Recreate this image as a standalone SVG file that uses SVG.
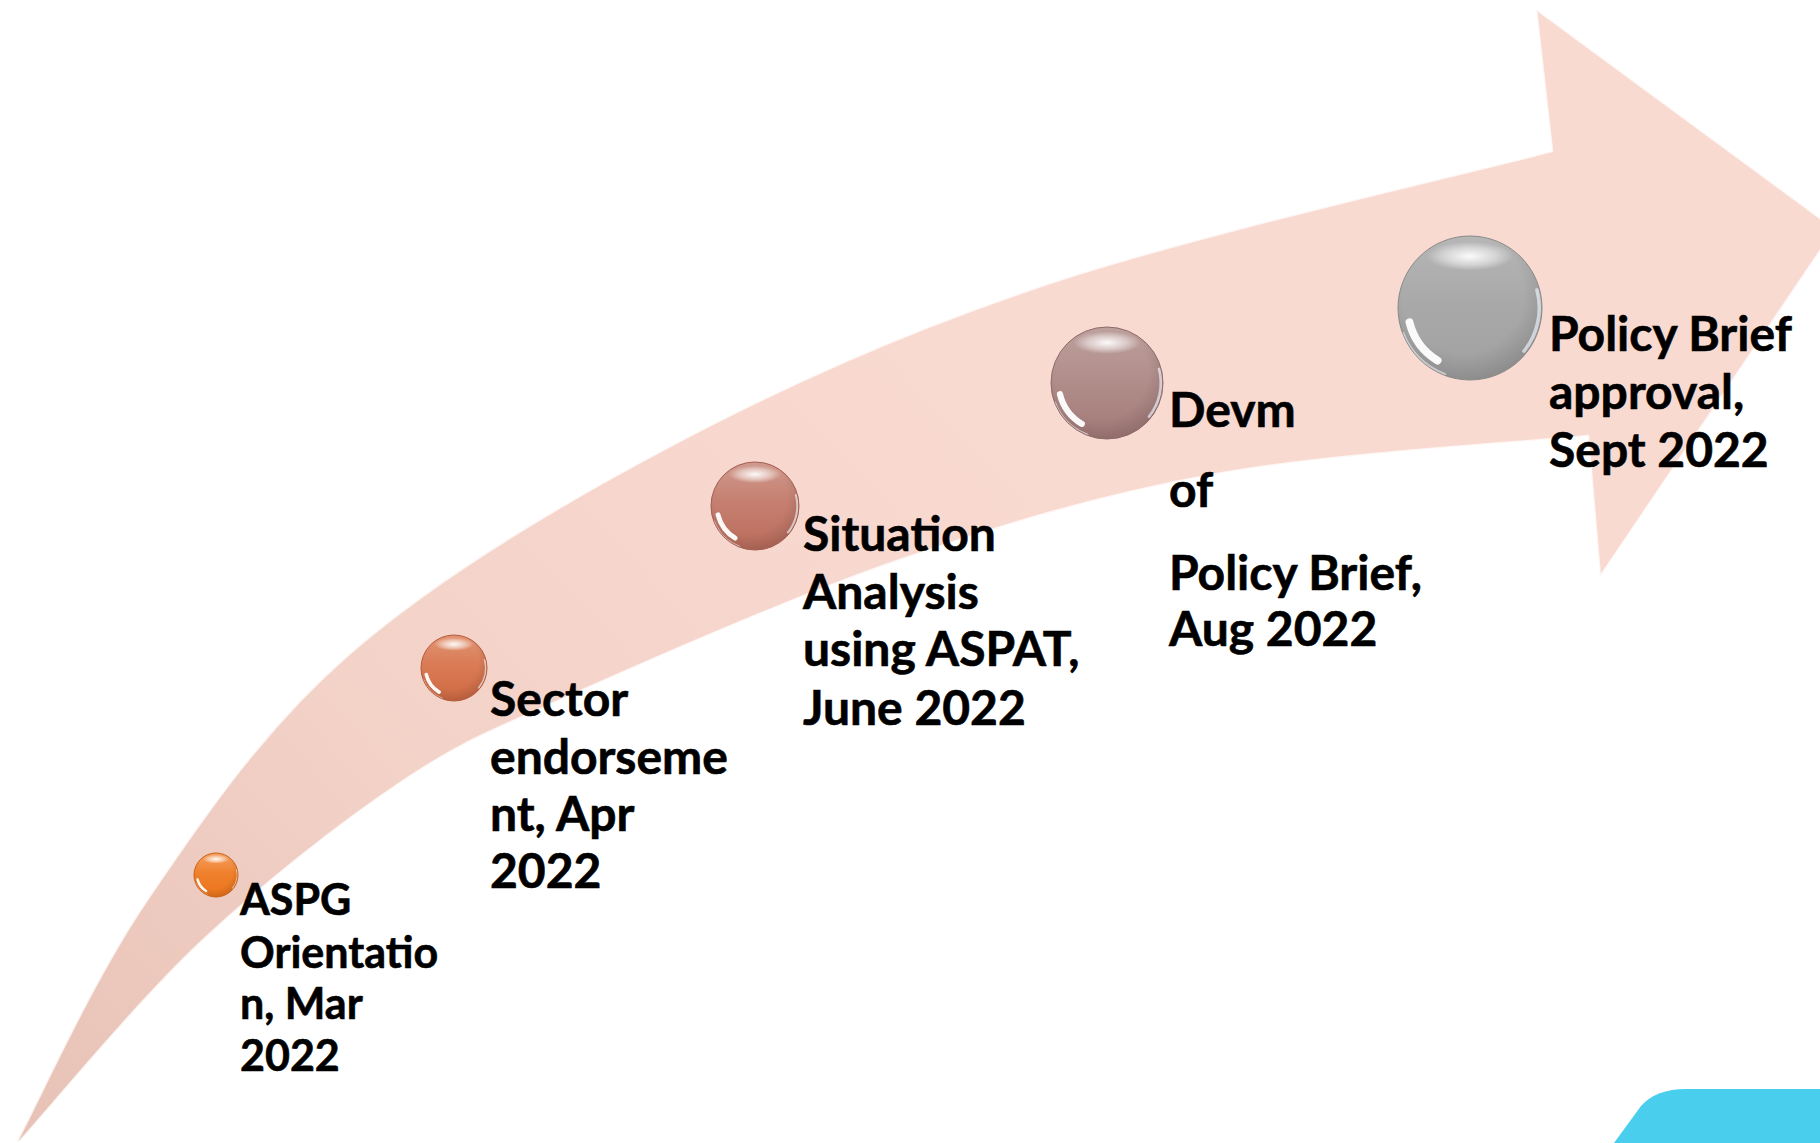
<svg xmlns="http://www.w3.org/2000/svg" xmlns:xlink="http://www.w3.org/1999/xlink" width="1820" height="1143" viewBox="0 0 1820 1143">
  <style>
    .lbl { font-family: "Lato", "Open Sans", "Liberation Sans", sans-serif; font-weight: 700; fill: #000000; stroke: #000000; stroke-width: 0.6px; }
    .big { font-size: 48px; }
    .small { font-size: 43px; }
    .rim { fill: none; stroke-width: 1; vector-effect: non-scaling-stroke; }
  </style>
  <defs>
    <linearGradient id="arrowFill" gradientUnits="userSpaceOnUse" x1="0" y1="1143" x2="900" y2="300">
      <stop offset="0" stop-color="#E7C1B5"/>
      <stop offset="0.45" stop-color="#F3D2C8"/>
      <stop offset="1" stop-color="#F9DAD1"/>
    </linearGradient>
    <radialGradient id="hlGrad" cx="0.5" cy="0.5" r="0.5">
      <stop offset="0" stop-color="#FFFFFF" stop-opacity="0.95"/>
      <stop offset="0.6" stop-color="#FFFFFF" stop-opacity="0.45"/>
      <stop offset="1" stop-color="#FFFFFF" stop-opacity="0"/>
    </radialGradient>
    <radialGradient id="shade" cx="0.45" cy="0.4" r="0.6">
      <stop offset="0.7" stop-color="#000000" stop-opacity="0"/>
      <stop offset="1" stop-color="#000000" stop-opacity="0.12"/>
    </radialGradient>
    <linearGradient id="b1" x1="0" y1="0" x2="0" y2="1">
      <stop offset="0" stop-color="#F4A062"/>
      <stop offset="0.45" stop-color="#F0802C"/>
      <stop offset="1" stop-color="#EC741C"/>
    </linearGradient>
    <linearGradient id="b2" x1="0" y1="0" x2="0" y2="1">
      <stop offset="0" stop-color="#E29474"/>
      <stop offset="0.45" stop-color="#D97B55"/>
      <stop offset="1" stop-color="#CF6A43"/>
    </linearGradient>
    <linearGradient id="b3" x1="0" y1="0" x2="0" y2="1">
      <stop offset="0" stop-color="#D09A8E"/>
      <stop offset="0.45" stop-color="#C57F70"/>
      <stop offset="1" stop-color="#BB6D5C"/>
    </linearGradient>
    <linearGradient id="b4" x1="0" y1="0" x2="0" y2="1">
      <stop offset="0" stop-color="#BDA09D"/>
      <stop offset="0.45" stop-color="#B18E8B"/>
      <stop offset="1" stop-color="#A47B79"/>
    </linearGradient>
    <linearGradient id="b5" x1="0" y1="0" x2="0" y2="1">
      <stop offset="0" stop-color="#B6B6B6"/>
      <stop offset="0.45" stop-color="#A9A9A9"/>
      <stop offset="1" stop-color="#A0A0A0"/>
    </linearGradient>
    <g id="gloss">
      <circle r="1" fill="url(#shade)"/>
      <ellipse cx="0" cy="-0.72" rx="0.6" ry="0.2" fill="url(#hlGrad)"/>
      <path d="M -0.84,0.2 A 0.86 0.86 0 0 0 -0.45,0.73" fill="none" stroke="#FFFFFF" stroke-opacity="0.95" stroke-width="0.11" stroke-linecap="round"/>
      <path d="M -0.93,0.35 A 0.98 0.98 0 0 0 -0.35,0.92" fill="none" stroke="#FFFFFF" stroke-opacity="0.5" stroke-width="0.04" stroke-linecap="round"/>
      <path d="M 0.93,-0.25 A 0.96 0.96 0 0 1 0.75,0.6" fill="none" stroke="#EEF6FF" stroke-opacity="0.65" stroke-width="0.05" stroke-linecap="round"/>
    </g>
  </defs>

  <rect x="0" y="0" width="1820" height="1143" fill="#FFFFFF"/>

  <g id="timeline-arrow">
    <path id="arrow-body" fill="url(#arrowFill)" stroke="#FFFFFF" stroke-opacity="0.75" stroke-width="2.5" stroke-linejoin="round"
      d="M 17,1141
         C 38.7,1100.8 91.8,981 147,900
         C 202.2,819 262,730 348,655
         C 434,580 547,511.7 663,450
         C 779,388.3 895.8,334.8 1044,285
         C 1192.2,235.2 1467.3,173.3 1552,151
         L 1536,9
         L 1835,229
         L 1600,577
         L 1588,436
         C 1526.2,442.3 1331.7,453.3 1217,474
         C 1102.3,494.7 1008.7,522.7 900,560
         C 791.3,597.3 648.3,660.8 565,698
         C 481.7,735.2 460.8,742.2 400,783
         C 339.2,823.8 263.3,883.3 200,943
         C 136.7,1002.7 50,1108 20,1141 Z"/>
  </g>

  <g id="node-1">
    <g transform="translate(216,875) scale(22)">
      <circle r="1" fill="url(#b1)"/>
      <use xlink:href="#gloss"/>
      <circle r="1" class="rim" stroke="#C9621A"/>
    </g>
    <text class="lbl small"><tspan x="240" y="915">ASPG</tspan><tspan x="240" y="968">Orientatio</tspan><tspan x="240" y="1019">n, Mar</tspan><tspan x="240" y="1071">2022</tspan></text>
  </g>

  <g id="node-2">
    <g transform="translate(454,668) scale(33)">
      <circle r="1" fill="url(#b2)"/>
      <use xlink:href="#gloss"/>
      <circle r="1" class="rim" stroke="#B55A3A"/>
    </g>
    <text class="lbl big"><tspan x="490" y="716">Sector</tspan><tspan x="490" y="774">endorseme</tspan><tspan x="490" y="831">nt, Apr</tspan><tspan x="490" y="888">2022</tspan></text>
  </g>

  <g id="node-3">
    <g transform="translate(755,506) scale(44)">
      <circle r="1" fill="url(#b3)"/>
      <use xlink:href="#gloss"/>
      <circle r="1" class="rim" stroke="#A35E50"/>
    </g>
    <text class="lbl big"><tspan x="803" y="551">Situation</tspan><tspan x="803" y="609">Analysis</tspan><tspan x="803" y="666">using ASPAT,</tspan><tspan x="803" y="725">June 2022</tspan></text>
  </g>

  <g id="node-4">
    <g transform="translate(1107,383) scale(56)">
      <circle r="1" fill="url(#b4)"/>
      <use xlink:href="#gloss"/>
      <circle r="1" class="rim" stroke="#8E6B69"/>
    </g>
    <text class="lbl big"><tspan x="1169" y="427">Devm</tspan><tspan x="1169" y="507">of</tspan><tspan x="1169" y="590">Policy Brief,</tspan><tspan x="1169" y="646">Aug 2022</tspan></text>
  </g>

  <g id="node-5">
    <g transform="translate(1470,308) scale(72)">
      <circle r="1" fill="url(#b5)"/>
      <use xlink:href="#gloss"/>
      <circle r="1" class="rim" stroke="#8A8A8A"/>
    </g>
    <text class="lbl big"><tspan x="1549" y="351">Policy Brief</tspan><tspan x="1549" y="409">approval,</tspan><tspan x="1549" y="467">Sept 2022</tspan></text>
  </g>

  <path id="corner-shape" fill="#4ACEEE" d="M 1614,1143 L 1641,1106 Q 1656,1089 1686,1089 L 1820,1089 L 1820,1143 Z"/>
</svg>
